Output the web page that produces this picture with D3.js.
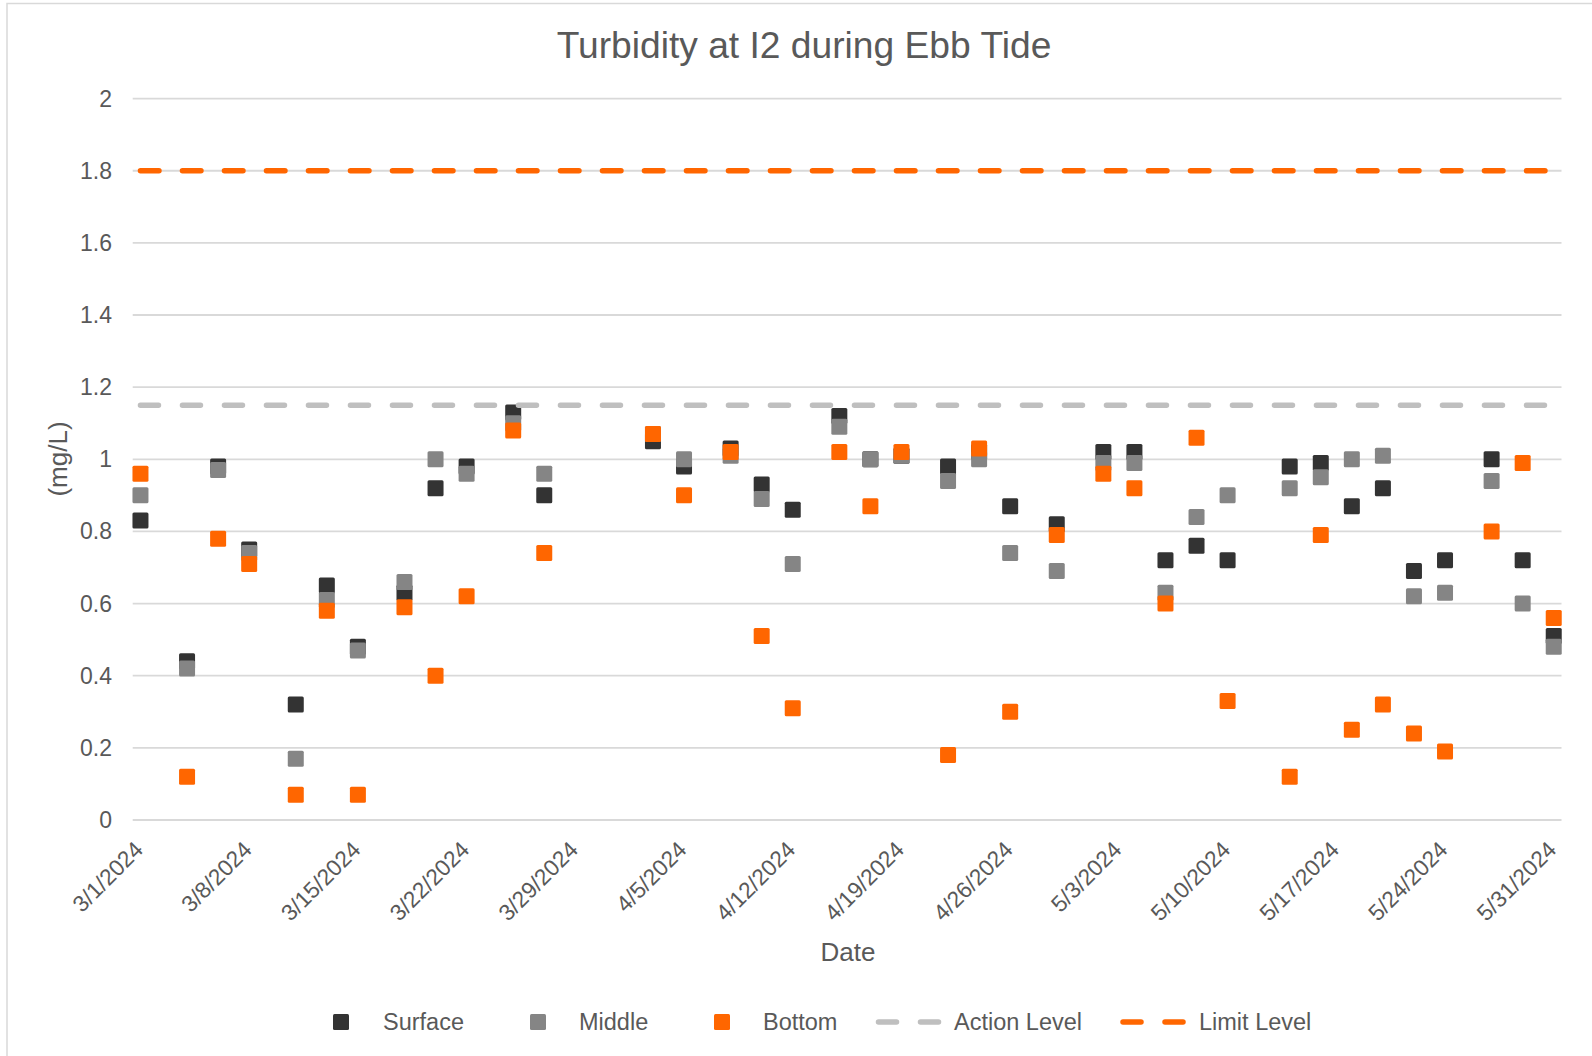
<!DOCTYPE html>
<html>
<head>
<meta charset="utf-8">
<script src="https://cdn.jsdelivr.net/npm/d3@7/dist/d3.min.js"></script>
<style>
  html, body { margin: 0; padding: 0; background: #fff; }
  svg { display: block; font-family: "Liberation Sans", Arial, sans-serif; }
</style>
</head>
<body>
<svg id="chart" width="1592" height="1056"></svg>
<script>
const dates = ["2024-03-01","2024-03-04","2024-03-06","2024-03-08","2024-03-11","2024-03-13","2024-03-15","2024-03-18","2024-03-20","2024-03-22","2024-03-25","2024-03-27","2024-04-03","2024-04-05","2024-04-08","2024-04-10","2024-04-12","2024-04-15","2024-04-17","2024-04-19","2024-04-22","2024-04-24","2024-04-26","2024-04-29","2024-05-02","2024-05-04","2024-05-06","2024-05-08","2024-05-10","2024-05-14","2024-05-16","2024-05-18","2024-05-20","2024-05-22","2024-05-24","2024-05-27","2024-05-29","2024-05-31"];
const surface = [0.83,0.44,0.98,0.75,0.32,0.65,0.48,0.63,0.92,0.98,1.13,0.90,1.05,0.98,1.03,0.93,0.86,1.12,1.00,1.01,0.98,1.02,0.87,0.82,1.02,1.02,0.72,0.76,0.72,0.98,0.99,0.87,0.92,0.69,0.72,1.00,0.72,0.51];
const middle  = [0.90,0.42,0.97,0.74,0.17,0.61,0.47,0.66,1.00,0.96,1.10,0.96,1.07,1.00,1.01,0.89,0.71,1.09,1.00,1.01,0.94,1.00,0.74,0.69,0.99,0.99,0.63,0.84,0.90,0.92,0.95,1.00,1.01,0.62,0.63,0.94,0.60,0.48];
const bottom  = [0.96,0.12,0.78,0.71,0.07,0.58,0.07,0.59,0.40,0.62,1.08,0.74,1.07,0.90,1.02,0.51,0.31,1.02,0.87,1.02,0.18,1.03,0.30,0.79,0.96,0.92,0.60,1.06,0.33,0.12,0.79,0.25,0.32,0.24,0.19,0.80,0.99,0.56];
const actionLevel = 1.15;
const limitLevel = 1.8;
const yTicks = [0,0.2,0.4,0.6,0.8,1,1.2,1.4,1.6,1.8,2];
const xTickDates = ["2024-03-01","2024-03-08","2024-03-15","2024-03-22","2024-03-29","2024-04-05","2024-04-12","2024-04-19","2024-04-26","2024-05-03","2024-05-10","2024-05-17","2024-05-24","2024-05-31"];

(function () {
const parse = s => { const [yy,m,d] = s.split("-").map(Number); return new Date(Date.UTC(yy, m-1, d)); };
const fmt = dt => `${dt.getUTCMonth()+1}/${dt.getUTCDate()}/${dt.getUTCFullYear()}`;
const DAY = 86400000;

const svg = d3.select("#chart");
const textColor = "#595959";
const gridColor = "#d9d9d9";
const colors = { surface: "#333333", middle: "#858585", bottom: "#ff6600", action: "#bfbfbf", limit: "#ff6600" };

// chart area border
svg.append("rect").attr("x", 7).attr("y", 3.5).attr("width", 1600).attr("height", 1070)
  .attr("fill", "#fff").attr("stroke", gridColor).attr("stroke-width", 1.5);

const pLeft = 132.7, pRight = 1561.5, pTop = 98.6, pBot = 820;
const first = parse(dates[0]), last = parse(dates[dates.length-1]);
const x = d3.scaleUtc()
  .domain([new Date(+parse("2024-03-01") - DAY/2), new Date(+parse("2024-05-31") + DAY/2)])
  .range([pLeft, pRight]);
const y = d3.scaleLinear().domain([0, 2]).range([pBot, pTop]);

// gridlines
svg.append("g").selectAll("line").data(yTicks).join("line")
  .attr("x1", pLeft).attr("x2", pRight)
  .attr("y1", d => y(d)).attr("y2", d => y(d))
  .attr("stroke", gridColor).attr("stroke-width", 1.8);

// y tick labels
svg.append("g").selectAll("text").data(yTicks).join("text")
  .attr("x", 112).attr("y", d => y(d))
  .attr("text-anchor", "end").attr("dominant-baseline", "central")
  .attr("fill", textColor).attr("font-size", 23)
  .text(d => d3.format("~g")(d));

// x tick labels
svg.append("g").selectAll("text").data(xTickDates.map(parse)).join("text")
  .attr("transform", d => `translate(${x(d) + 4},${851}) rotate(-45)`)
  .attr("text-anchor", "end")
  .attr("fill", textColor).attr("font-size", 22.7)
  .text(d => fmt(d));

// title
svg.append("text").attr("x", 804).attr("y", 45)
  .attr("text-anchor", "middle").attr("dominant-baseline", "central")
  .attr("fill", textColor).attr("font-size", 37.2)
  .text("Turbidity at I2 during Ebb Tide");

// axis titles
svg.append("text").attr("transform", "translate(58,459) rotate(-90)")
  .attr("text-anchor", "middle").attr("dominant-baseline", "central")
  .attr("fill", textColor).attr("font-size", 26).text("(mg/L)");
svg.append("text").attr("x", 848).attr("y", 952)
  .attr("text-anchor", "middle").attr("dominant-baseline", "central")
  .attr("fill", textColor).attr("font-size", 26).text("Date");

// scatter series
const M = 16;
const series = [
  { key: "surface", values: surface },
  { key: "middle", values: middle },
  { key: "bottom", values: bottom }
];
series.forEach(s => {
  svg.append("g").selectAll("rect").data(dates.map((d, i) => ({ d: parse(d), v: s.values[i] }))).join("rect")
    .attr("x", p => x(p.d) - M/2).attr("y", p => y(p.v) - M/2)
    .attr("width", M).attr("height", M).attr("rx", 1.5)
    .attr("fill", colors[s.key]);
});

// level lines
const line = d3.line().x(p => x(p.d)).y(p => y(p.v));
svg.append("path").datum([{ d: first, v: actionLevel }, { d: last, v: actionLevel }])
  .attr("d", line).attr("fill", "none").attr("stroke", colors.action)
  .attr("stroke-width", 5.5).attr("stroke-linecap", "round").attr("stroke-dasharray", "18,24");
svg.append("path").datum([{ d: first, v: limitLevel }, { d: last, v: limitLevel }])
  .attr("d", line).attr("fill", "none").attr("stroke", colors.limit)
  .attr("stroke-width", 5.5).attr("stroke-linecap", "round").attr("stroke-dasharray", "18.5,23.5");

// legend
const ly = 1022;
const legend = svg.append("g");
const markerItems = [
  { label: "Surface", color: colors.surface, mx: 341, tx: 383 },
  { label: "Middle", color: colors.middle, mx: 538, tx: 579 },
  { label: "Bottom", color: colors.bottom, mx: 722, tx: 763 }
];
markerItems.forEach(it => {
  legend.append("rect").attr("x", it.mx - M/2).attr("y", ly - M/2).attr("width", M).attr("height", M)
    .attr("rx", 1.5).attr("fill", it.color);
  legend.append("text").attr("x", it.tx).attr("y", ly).attr("dominant-baseline", "central")
    .attr("fill", textColor).attr("font-size", 23.5).text(it.label);
});
const lineItems = [
  { label: "Action Level", color: colors.action, x0: 878.5, tx: 954 },
  { label: "Limit Level", color: colors.limit, x0: 1123, tx: 1199 }
];
lineItems.forEach(it => {
  [0, 42].forEach(off => {
    legend.append("line").attr("x1", it.x0 + off).attr("x2", it.x0 + off + 18)
      .attr("y1", ly).attr("y2", ly).attr("stroke", it.color)
      .attr("stroke-width", 5.5).attr("stroke-linecap", "round");
  });
  legend.append("text").attr("x", it.tx).attr("y", ly).attr("dominant-baseline", "central")
    .attr("fill", textColor).attr("font-size", 23.5).text(it.label);
});
})();
</script>
</body>
</html>
